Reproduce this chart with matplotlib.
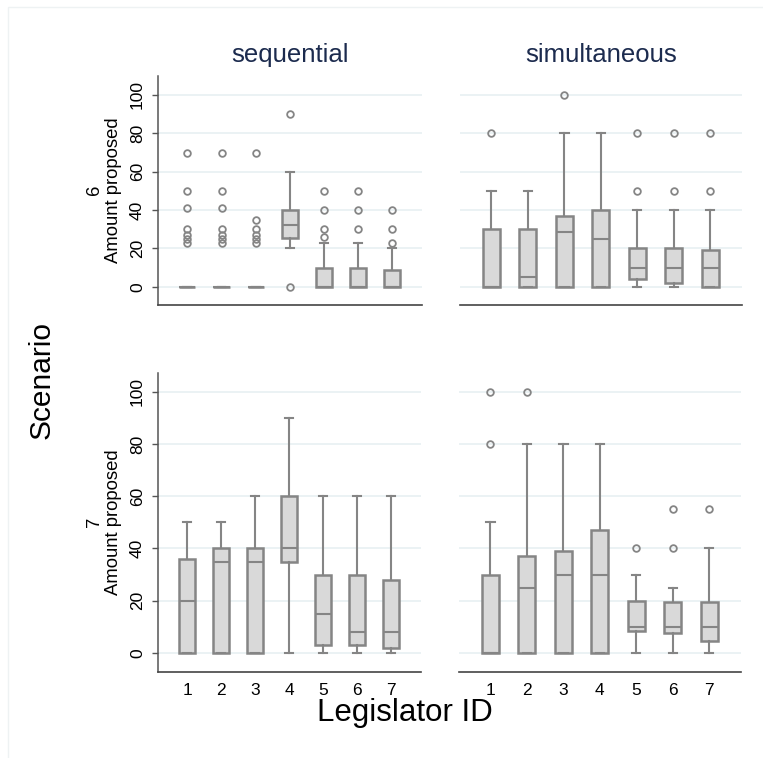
import matplotlib.pyplot as plt
from matplotlib.patches import Rectangle

plt.rcParams['font.family'] = ['Liberation Sans', 'DejaVu Sans']

legislators = [1, 2, 3, 4, 5, 6, 7]
tick_labels = ['1', '2', '3', '4', '5', '6', '7']
y_ticks = [0, 20, 40, 60, 80, 100]

# [whisker low, q1, median, q3, whisker high] per legislator
seq6_box = [[0, 0, 0, 0, 0], [0, 0, 0, 0, 0], [0, 0, 0, 0, 0], [20, 25.5, 32, 40, 60],
            [0, 0, 0, 10, 23], [0, 0, 0, 10, 23], [0, 0, 0, 9, 20]]
seq6_out = [[23, 25, 27, 30, 41, 50, 70], [23, 25, 27, 30, 41, 50, 70], [23, 25, 27, 30, 35, 70],
            [0, 90], [26, 30, 40, 50], [30, 40, 50], [23, 30, 40]]

sim6_box = [[0, 0, 0, 30, 50], [0, 0, 5, 30, 50], [0, 0, 28.5, 37, 80], [0, 0, 25, 40, 80],
            [0, 4, 10, 20, 40], [0, 2, 10, 20, 40], [0, 0, 10, 19, 40]]
sim6_out = [[80], [], [100], [], [50, 80], [50, 80], [50, 80]]

seq7_box = [[0, 0, 20, 36, 50], [0, 0, 35, 40, 50], [0, 0, 35, 40, 60], [0, 35, 40, 60, 90],
            [0, 3, 15, 30, 60], [0, 3, 8, 30, 60], [0, 2, 8, 28, 60]]
seq7_out = [[], [], [], [], [], [], []]

sim7_box = [[0, 0, 0, 30, 50], [0, 0, 25, 37, 80], [0, 0, 30, 39, 80], [0, 0, 30, 47, 80],
            [0, 8.5, 10, 20, 30], [0, 7.5, 10, 19.5, 25], [0, 4.5, 10, 19.5, 40]]
sim7_out = [[80, 100], [100], [], [], [40], [40, 55], [55]]

W, H = 763, 758
fig = plt.figure(figsize=(W / 100, H / 100), dpi=100)
fig.patches.append(Rectangle((8 / W, -0.01), 1.0, 1 - 7 / H + 0.01, transform=fig.transFigure,
                             fill=False, edgecolor='#eef2f3', lw=1))

gray = '#858585'
grid_c = '#e8f0f2'


def pix_axes(x0, y0, x1, y1):
    return fig.add_axes([x0 / W, 1 - y1 / H, (x1 - x0) / W, (y1 - y0) / H])


def draw(ax, boxes, outs, ylim, left, bottom_labels):
    stats = []
    for b, o in zip(boxes, outs):
        stats.append({'whislo': b[0], 'q1': b[1], 'med': b[2], 'q3': b[3],
                      'whishi': b[4], 'fliers': o})
    ax.bxp(stats, positions=legislators, widths=0.47, capwidths=0.23, patch_artist=True,
           boxprops=dict(facecolor='#d9d9d9', edgecolor=gray, lw=1.8),
           medianprops=dict(color=gray, lw=1.5),
           whiskerprops=dict(color=gray, lw=1.5),
           capprops=dict(color=gray, lw=1.5),
           flierprops=dict(marker='o', markerfacecolor='none', markeredgecolor=gray,
                           markersize=4.8, markeredgewidth=1.3),
           zorder=3)
    ax.set_xlim(0.14, 7.87)
    ax.set_ylim(*ylim)
    ax.set_yticks(y_ticks)
    ax.yaxis.grid(True, color=grid_c, lw=1.2, zorder=0)
    ax.set_axisbelow(True)
    for s in ['top', 'right']:
        ax.spines[s].set_visible(False)
    ax.spines['bottom'].set_color('#444444')
    ax.spines['bottom'].set_linewidth(1.2)
    ax.spines['left'].set_color('#555555')
    ax.spines['left'].set_linewidth(1.1)
    ax.tick_params(axis='x', length=0, pad=8, labelsize=12.5)
    if bottom_labels:
        ax.set_xticks(legislators)
        ax.set_xticklabels(tick_labels)
    else:
        ax.set_xticks([])
    if left:
        ax.tick_params(axis='y', length=4.3, color='#555555', width=1, labelsize=12.5, pad=5)
        for t in ax.get_yticklabels():
            t.set_rotation(90)
            t.set_va('center')
    else:
        ax.spines['left'].set_visible(False)
        ax.tick_params(axis='y', length=0, labelleft=False)
    ax.set_facecolor('none')


ax1 = pix_axes(158, 76, 422, 305)
ax2 = pix_axes(460, 76, 742, 305)
ax3 = pix_axes(158, 373, 421, 672)
ax4 = pix_axes(459, 373, 741, 672)

top_lim = (-9.5, 109.9)
bot_lim = (-7.3, 107.2)
draw(ax1, seq6_box, seq6_out, top_lim, True, False)
draw(ax2, sim6_box, sim6_out, top_lim, False, False)
draw(ax3, seq7_box, seq7_out, bot_lim, True, True)
draw(ax4, sim7_box, sim7_out, bot_lim, False, True)

title_c = '#1c2b4e'
fig.text(290 / W, 1 - 55 / H, 'sequential', ha='center', va='center', fontsize=18.5, color=title_c)
fig.text(601 / W, 1 - 55 / H, 'simultaneous', ha='center', va='center', fontsize=18.5, color=title_c)

for yc, lab in [(190, '6'), (522, '7')]:
    fig.text(94 / W, 1 - yc / H, lab, ha='center', va='center', rotation=90, fontsize=13.3)
    fig.text(113 / W, 1 - yc / H, 'Amount proposed', ha='center', va='center', rotation=90,
             fontsize=13.3)

fig.text(42 / W, 1 - 380 / H, 'Scenario', ha='center', va='center', rotation=90, fontsize=21.5)
fig.text(405 / W, 1 - 713 / H, 'Legislator ID', ha='center', va='center', fontsize=22.5)

fig.savefig('out.png', dpi=100, facecolor='white')
